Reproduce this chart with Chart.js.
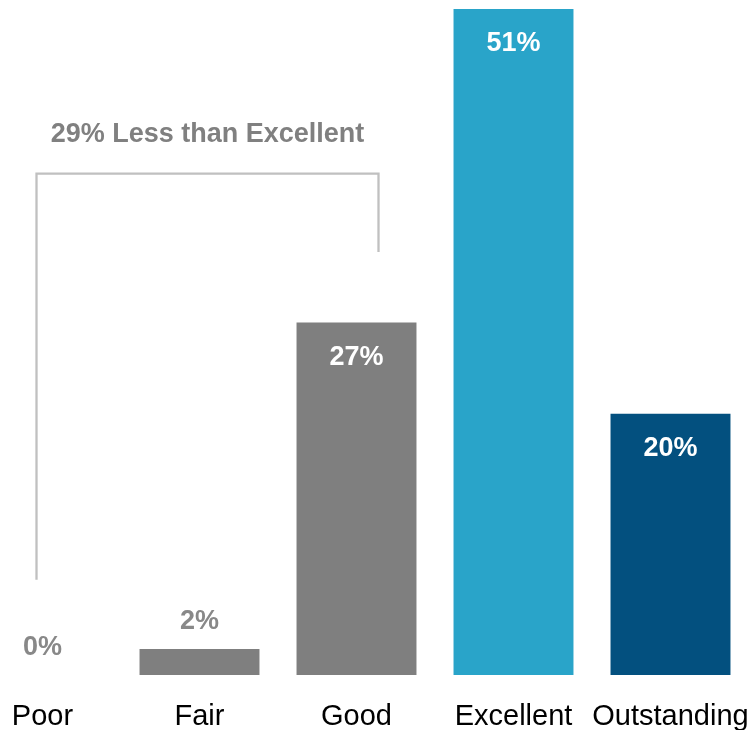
<!DOCTYPE html>
<html>
<head>
<meta charset="utf-8">
<script src="https://cdn.jsdelivr.net/npm/chart.js@4/dist/chart.umd.min.js"></script>
<style>
  html, body { margin: 0; padding: 0; background: #fff; }
  #wrap { position: relative; width: 754px; height: 730px; overflow: hidden; }
  #wrap canvas { position: absolute; left: -36px; top: 0; }
</style>
</head>
<body>
<div id="wrap"><canvas id="chart" width="790" height="730"></canvas></div>
<script>
// ratings share
const categories = ["Poor", "Fair", "Good", "Excellent", "Outstanding"]
const values = [0, 2, 27, 51, 20]
const barColors = ["#7f7f7f", "#7f7f7f", "#7f7f7f", "#29a4c9", "#03507f"]

// bracket over the lower ratings (indexes + y values in %)
const bracketText = "29% Less than Excellent"
const bracketFrom = 0, bracketTo = 2
const bracketTop = 38.4, bracketLeftEnd = 7.3, bracketRightEnd = 32.4

const FONT = "'Liberation Sans', Arial, sans-serif"

// value labels: white inside tall bars, gray above short ones
const valueLabels = {
  id: 'valueLabels',
  afterDatasetsDraw(chart){
    const ctx = chart.ctx
    const meta = chart.getDatasetMeta(0)
    ctx.save()
    ctx.font = "bold 27px " + FONT
    ctx.textAlign = "center"
    ctx.textBaseline = "middle"
    meta.data.forEach((bar, i)=>{
      let v = values[i]
      if(v >= 10){
        ctx.fillStyle = "#ffffff"
        ctx.fillText(v + "%", bar.x, bar.y + 35)
      } else {
        ctx.fillStyle = "#888888"
        ctx.fillText(v + "%", bar.x, bar.y - 27)
      }
    })
    ctx.restore()
  }
}

// bracket + caption
const bracket = {
  id: 'bracket',
  afterDatasetsDraw(chart){
    const ctx = chart.ctx
    const x = chart.scales.x, y = chart.scales.y
    const x1 = x.getPixelForValue(bracketFrom) - 6
    const x2 = x.getPixelForValue(bracketTo) + 22
    const yt = y.getPixelForValue(bracketTop)
    ctx.save()
    ctx.strokeStyle = "#c0c0c0"
    ctx.lineWidth = 2.3
    ctx.beginPath()
    ctx.moveTo(x1, y.getPixelForValue(bracketLeftEnd))
    ctx.lineTo(x1, yt)
    ctx.lineTo(x2, yt)
    ctx.lineTo(x2, y.getPixelForValue(bracketRightEnd))
    ctx.stroke()

    ctx.font = "bold 27px " + FONT
    ctx.fillStyle = "#808080"
    ctx.textAlign = "center"
    ctx.textBaseline = "middle"
    ctx.fillText(bracketText, (x1 + x2) / 2, yt - 39)
    ctx.restore()
  }
}

new Chart(document.getElementById("chart"), {
  type: 'bar',
  data: {
    labels: categories,
    datasets: [{
      data: values,
      backgroundColor: barColors,
      categoryPercentage: 1,
      barPercentage: 0.764
    }]
  },
  options: {
    responsive: false,
    animation: false,
    layout: { padding: { top: 9, right: 5, left: 0, bottom: 0 } },
    plugins: { legend: { display: false }, tooltip: { enabled: false } },
    scales: {
      x: {
        grid: { display: false, drawTicks: false },
        border: { display: false },
        ticks: {
          color: "#000", padding: 0, maxRotation: 0, minRotation: 0, autoSkip: false,
          // tall line box pushes the labels down below the bars
          font: { family: FONT, size: 29, lineHeight: "83px" }
        },
        afterFit(scale){ scale.height = 55 }
      },
      y: { display: false, min: 0, max: 51 }
    }
  },
  plugins: [valueLabels, bracket]
})
</script>
</body>
</html>
